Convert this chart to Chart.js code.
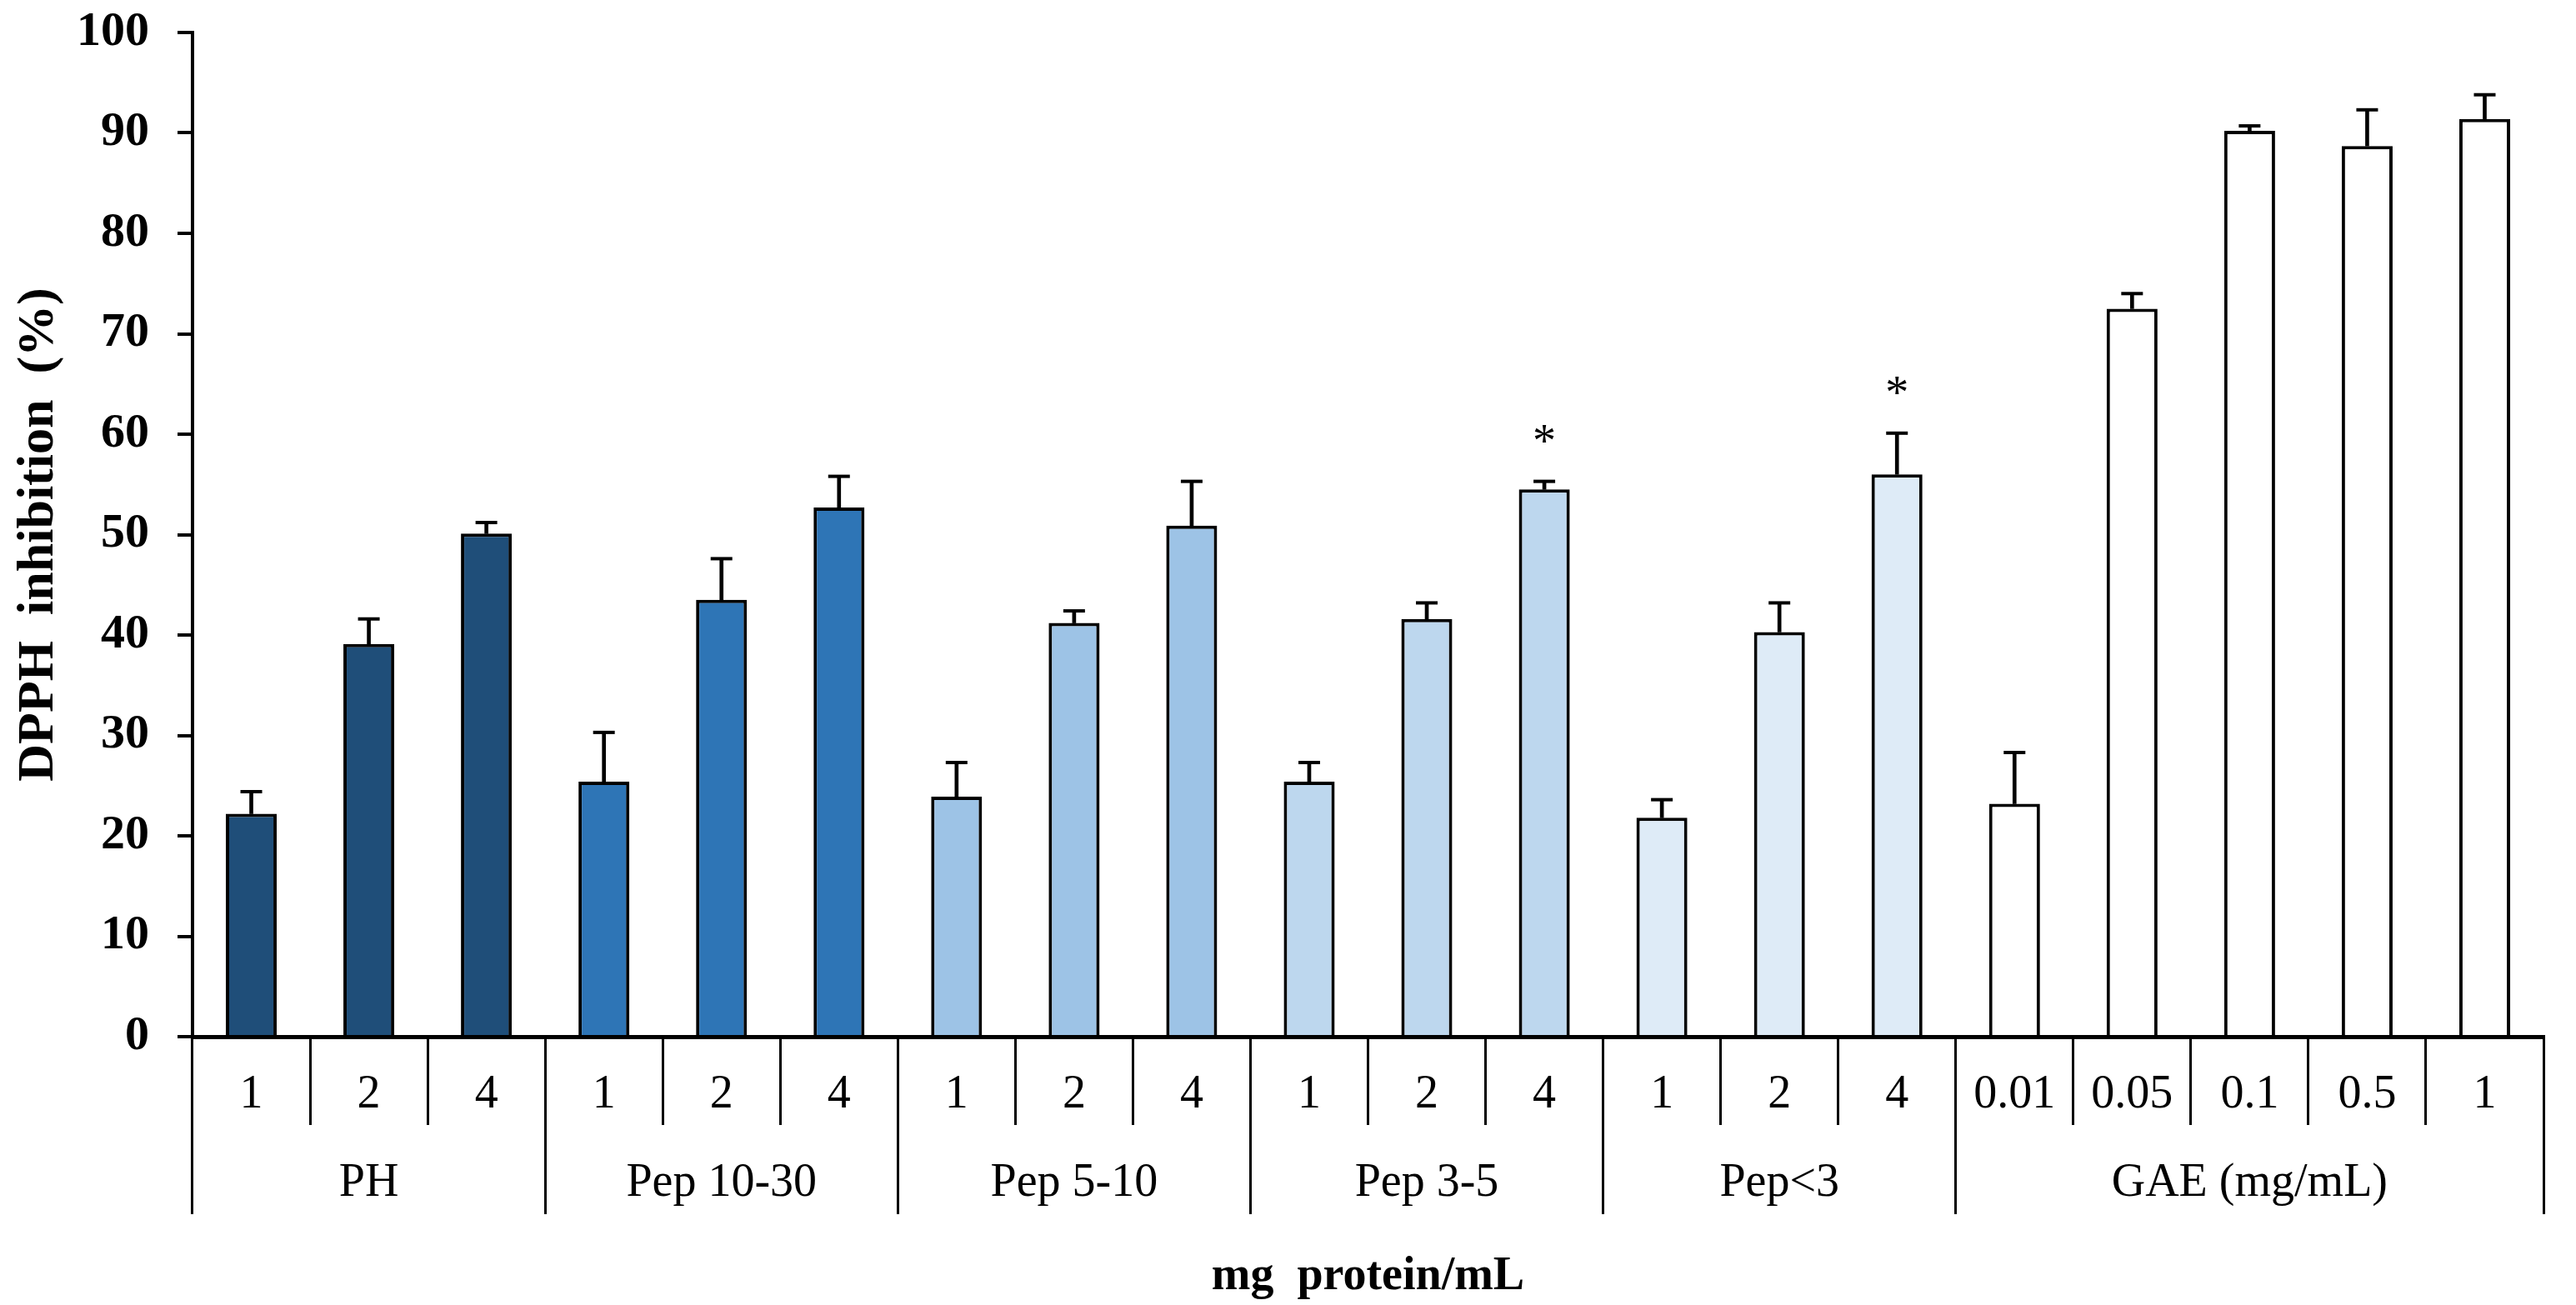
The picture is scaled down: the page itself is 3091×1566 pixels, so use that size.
<!DOCTYPE html>
<html>
<head>
<meta charset="utf-8">
<script src="https://cdn.jsdelivr.net/npm/chart.js@4.4.1/dist/chart.umd.min.js"></script>
<style>
html,body{margin:0;padding:0;background:#ffffff;}
#wrap{width:3091px;height:1566px;}
</style>
</head>
<body>
<div id="wrap"><canvas id="c" width="3091" height="1566"></canvas></div>
<script>
// ---- data ----
const groups = ['PH', 'Pep 10-30', 'Pep 5-10', 'Pep 3-5', 'Pep<3', 'GAE (mg/mL)'];
const groupSizes = [3, 3, 3, 3, 3, 5];
const groupColors = ['#1F4E79', '#2E75B6', '#9DC3E6', '#BDD7EE', '#DEEBF7', '#FFFFFF'];
const doses = ['1', '2', '4', '1', '2', '4', '1', '2', '4', '1', '2', '4', '1', '2', '4', '0.01', '0.05', '0.1', '0.5', '1'];
const values = [22.2, 39.1, 50.1, 25.4, 43.5, 52.7, 23.9, 41.2, 50.9, 25.4, 41.6, 54.5, 21.8, 40.3, 56.0, 23.2, 72.5, 90.2, 88.7, 91.4];
const errors = [2.2, 2.5, 1.1, 4.9, 4.1, 3.1, 3.4, 1.2, 4.4, 1.9, 1.6, 0.8, 1.8, 2.9, 4.1, 5.1, 1.5, 0.5, 3.6, 2.4];
const significant = [false, false, false, false, false, false, false, false, false, false, false, true, false, false, true, false, false, false, false, false];
const yTicks = { min: 0, max: 100, step: 10 };
const yTitle = 'DPPH  inhibition  (%)';
const xTitle = 'mg  protein/mL';

// ---- derived tables ----
const barColors = [];
const groupTickLabels = [];
const boundaries = new Set();
let start = 0;
groupSizes.forEach((n, g) => {
  boundaries.add(start);
  for (let k = 0; k < n; k++) {
    barColors.push(groupColors[g]);
    groupTickLabels.push(k === Math.floor(n / 2) ? groups[g] : '');
  }
  start += n;
});
const errTops = values.map((v, i) => v + errors[i]);
const stems = values.map((v, i) => [v, v + errors[i]]);

const FONT = 'Liberation Serif';

const asteriskPlugin = {
  id: 'asterisks',
  afterDatasetsDraw(chart) {
    const { ctx, scales } = chart;
    ctx.save();
    ctx.font = '56px "' + FONT + '"';
    ctx.fillStyle = '#000';
    ctx.textAlign = 'center';
    ctx.textBaseline = 'alphabetic';
    significant.forEach((s, i) => {
      if (!s) return;
      const px = scales.x.getPixelForValue(i);
      const py = scales.y.getPixelForValue(errTops[i]);
      ctx.fillText('*', px, py - 30);
    });
    ctx.restore();
  }
};

new Chart(document.getElementById('c'), {
  type: 'bar',
  data: {
    labels: doses,
    datasets: [
      {
        type: 'line',
        data: errTops,
        showLine: false,
        pointStyle: 'line',
        pointRadius: 13,
        pointHoverRadius: 13,
        pointBorderWidth: 4,
        pointHoverBorderWidth: 4,
        pointBorderColor: '#000',
        borderColor: '#000',
        order: 0
      },
      {
        data: stems,
        backgroundColor: '#000',
        borderWidth: 0,
        barThickness: 4,
        grouped: false,
        order: 1
      },
      {
        data: values,
        backgroundColor: barColors,
        borderColor: '#000',
        borderWidth: 4,
        categoryPercentage: 1,
        barPercentage: 0.433,
        grouped: false,
        order: 2
      }
    ]
  },
  options: {
    responsive: false,
    devicePixelRatio: 1,
    animation: false,
    events: [],
    layout: { padding: { top: 39, right: 39, left: 0, bottom: 0 } },
    plugins: {
      legend: { display: false },
      tooltip: { enabled: false }
    },
    scales: {
      y: {
        min: yTicks.min,
        max: yTicks.max,
        ticks: {
          stepSize: yTicks.step,
          color: '#000',
          font: { family: FONT, weight: 'bold', size: 58 },
          padding: 34
        },
        grid: { drawOnChartArea: false, drawTicks: true, tickLength: 18, color: '#000', lineWidth: 4 },
        border: { display: true, color: '#000', width: 4 },
        title: {
          display: true,
          text: yTitle,
          color: '#000',
          font: { family: FONT, weight: 'bold', size: 62 },
          padding: { top: 10, bottom: 0 }
        },
        afterFit(s) { s.width = 231; s.paddingTop = 0; s.paddingBottom = 0; }
      },
      x: {
        type: 'category',
        position: 'bottom',
        offset: true,
        weight: 0,
        ticks: {
          color: '#000',
          font: { family: FONT, size: 56 },
          padding: -69,
          autoSkip: false,
          maxRotation: 0,
          minRotation: 0
        },
        grid: { offset: true, drawOnChartArea: false, drawTicks: true, tickLength: 106, color: '#000', lineWidth: 3 },
        border: { display: true, color: '#000', width: 5 },
        afterFit(s) { s.height = 100; }
      },
      x2: {
        type: 'category',
        position: 'bottom',
        labels: groupTickLabels,
        offset: true,
        weight: 1,
        ticks: {
          color: '#000',
          font: { family: FONT, size: 56 },
          padding: -70,
          autoSkip: false,
          maxRotation: 0,
          minRotation: 0
        },
        grid: {
          offset: true,
          drawOnChartArea: false,
          drawTicks: true,
          tickLength: 113,
          lineWidth: 3,
          color: (ctx) => (ctx.type !== 'tick' || boundaries.has(ctx.index)) ? '#000' : 'rgba(0,0,0,0)'
        },
        border: { display: false },
        title: {
          display: true,
          text: xTitle,
          color: '#000',
          font: { family: FONT, weight: 'bold', size: 56 },
          padding: { top: 0, bottom: 0 }
        },
        afterFit(s) { s.height = 222; }
      }
    }
  },
  plugins: [asteriskPlugin]
});
</script>
</body>
</html>
